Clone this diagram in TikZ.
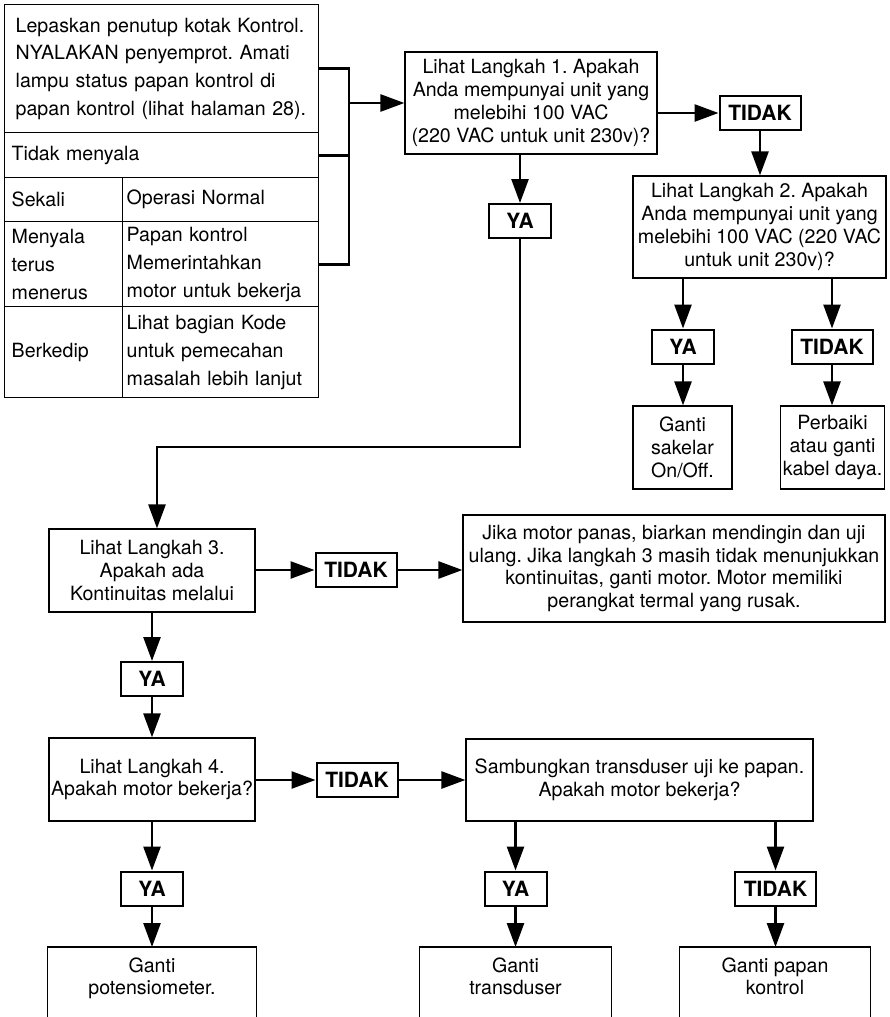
\documentclass[tikz,border=0pt]{standalone}
\usepackage{fontspec}
\setmainfont{TeX Gyre Heros}
\usetikzlibrary{arrows.meta,positioning,calc}
\frenchspacing

\begin{document}
\begin{tikzpicture}[x=0.5pt,y=-0.5pt,
  cell/.style ={draw,line width=0.7pt,anchor=north west,align=left,inner xsep=3.5pt,
                inner ysep=0pt,font=\fontsize{9.8}{13.9}\selectfont},
  box/.style  ={draw,line width=0.6pt,align=center,inner xsep=1pt,inner ysep=2pt,
                font=\fontsize{9.8}{11.4}\selectfont},
  res/.style  ={align=center,anchor=north,inner xsep=1pt,inner ysep=5pt,
                font=\fontsize{9.8}{11.4}\selectfont},
  lbl/.style  ={draw,line width=1pt,minimum height=17pt,inner sep=0pt,
                font=\fontsize{10.5}{12}\selectfont\bfseries},
  ya/.style   ={lbl,minimum width=31pt},
  tidak/.style={lbl,minimum width=40.5pt},
  wire/.style ={line width=1.3pt},
  arr/.style  ={-{Triangle[length=12pt,width=8.5pt]},line width=1.3pt},
]
\useasboundingbox (0,0) rectangle (889,1017);
\clip (0,0) rectangle (889,1017);

% status table
\node[cell,inner xsep=5.5pt,text width=146pt,minimum height=64pt] (t0) at (4,4)
  {Lepaskan penutup kotak Kontrol.\\NYALAKAN penyemprot. Amati\\lampu status papan kontrol di\\papan kontrol (lihat halaman 28).};
\node[cell,text width=150pt,minimum height=22.5pt] (t1) at (4,132) {Tidak menyala};
\node[cell,text width=52pt,minimum height=22pt] (t2l) at (4,177) {Sekali};
\node[cell,inner xsep=2pt,text width=94pt,minimum height=22pt] (t2r) at (122,177) {Operasi Normal};
\node[cell,text width=52pt,minimum height=42.5pt] (t3l) at (4,221) {Menyala\\terus\\menerus};
\node[cell,inner xsep=2pt,text width=94pt,minimum height=42.5pt] (t3r) at (122,221)
  {Papan kontrol\\Memerintahkan\\motor untuk bekerja};
\node[cell,text width=52pt,minimum height=45.5pt] (t4l) at (4,306) {Berkedip};
\node[cell,inner xsep=2pt,text width=94pt,minimum height=45.5pt] (t4r) at (122,306)
  {Lihat bagian Kode\\untuk pemecahan\\masalah lebih lanjut};

% step 1 and 2
\node[box,minimum width=126pt,minimum height=51pt] (box1) at (531,103)
  {Lihat Langkah 1. Apakah\\Anda mempunyai unit yang\\melebihi 100 VAC\\(220 VAC untuk unit 230v)?};
\node[tidak] (tidak1) at (760,113) {TIDAK};
\node[ya] (ya1) at (520,221) {YA};
\node[box,minimum width=126.5pt,minimum height=51pt] (box2) at (759.5,227)
  {Lihat Langkah 2. Apakah\\Anda mempunyai unit yang\\melebihi 100 VAC (220 VAC\\untuk unit 230v)?};
\node[ya] (ya2) at (683,346.5) {YA};
\node[tidak] (tidak2) at (832,346.5) {TIDAK};
\node[box,minimum width=49.5pt,minimum height=41.5pt] (r1) at (682.5,447.5) {Ganti\\sakelar\\On/Off.};
\node[box,minimum width=51.5pt,minimum height=41.5pt] (r2) at (832.5,447.5) {Perbaiki\\atau ganti\\kabel daya.};

% step 3
\node[box,minimum width=103pt,minimum height=41.5pt] (box3) at (152,570.5)
  {Lihat Langkah 3.\\Apakah ada\\Kontinuitas melalui};
\node[tidak] (tidak3) at (356,570) {TIDAK};
\node[box,minimum width=211pt,minimum height=53.5pt] (jika) at (674,568.5)
  {Jika motor panas, biarkan mendingin dan uji\\ulang. Jika langkah 3 masih tidak menunjukkan\\kontinuitas, ganti motor. Motor memiliki\\perangkat termal yang rusak.};
\node[ya] (ya3) at (152,679) {YA};

% step 4
\node[box,minimum width=103pt,minimum height=41.5pt] (box4) at (152,779.5)
  {Lihat Langkah 4.\\Apakah motor bekerja?};
\node[tidak] (tidak4) at (357,780) {TIDAK};
\node[box,minimum width=173.5pt,minimum height=41pt] (samb) at (639.5,780)
  {Sambungkan transduser uji ke papan.\\Apakah motor bekerja?};
\node[ya] (ya4) at (152,888.5) {YA};
\node[ya] (ya5) at (515.5,888.5) {YA};
\node[tidak] (tidak5) at (775.5,888.5) {TIDAK};
\node[res,minimum width=104pt] (r4) at (152,947) {Ganti\\potensiometer.};
\node[res,minimum width=95.5pt] (r5) at (515.5,947) {Ganti\\transduser};
\node[res,minimum width=95pt] (r6) at (775,947) {Ganti papan\\kontrol};
\coordinate (bot) at (0,1040);
\foreach \r in {r4,r5,r6}
  \draw[line width=0.6pt] (\r.north west |- bot) -- (\r.north west)
    -- (\r.north east) -- (\r.north east |- bot);

% connectors
\coordinate (brk) at (349,103);
\draw[wire] (t0.east) -| (brk |- t3r.east) -- (t3r.east);
\draw[wire] (t1.east) -- (brk |- t1.east);
\draw[arr] (brk) -- (box1);
\draw[arr] (box1.east |- tidak1) -- (tidak1);
\draw[arr] (tidak1) -- (tidak1 |- box2.north);
\draw[arr] (box1.south -| ya1) -- (ya1);
\draw[arr] (box2.south -| ya2) -- (ya2);
\draw[arr] (box2.south -| tidak2) -- (tidak2);
\draw[arr] (ya2) -- (ya2 |- r1.north);
\draw[arr] (tidak2) -- (tidak2 |- r2.north);
\coordinate (bend) at (157,447);
\draw[arr] (ya1) |- (bend) -- (bend |- box3.north);
\draw[arr] (box3.east |- tidak3) -- (tidak3);
\draw[arr] (tidak3) -- (tidak3 -| jika.west);
\draw[arr] (box3) -- (ya3);
\draw[arr] (ya3) -- (box4);
\draw[arr] (box4.east |- tidak4) -- (tidak4);
\draw[arr] (tidak4) -- (tidak4 -| samb.west);
\draw[arr] (box4) -- (ya4);
\draw[arr] (ya4) -- (r4);
\draw[arr] (samb.south -| ya5) -- (ya5);
\draw[arr] (samb.south -| tidak5) -- (tidak5);
\draw[arr] (ya5) -- (ya5 |- r5.north);
\draw[arr] (tidak5) -- (tidak5 |- r6.north);
\end{tikzpicture}
\end{document}
